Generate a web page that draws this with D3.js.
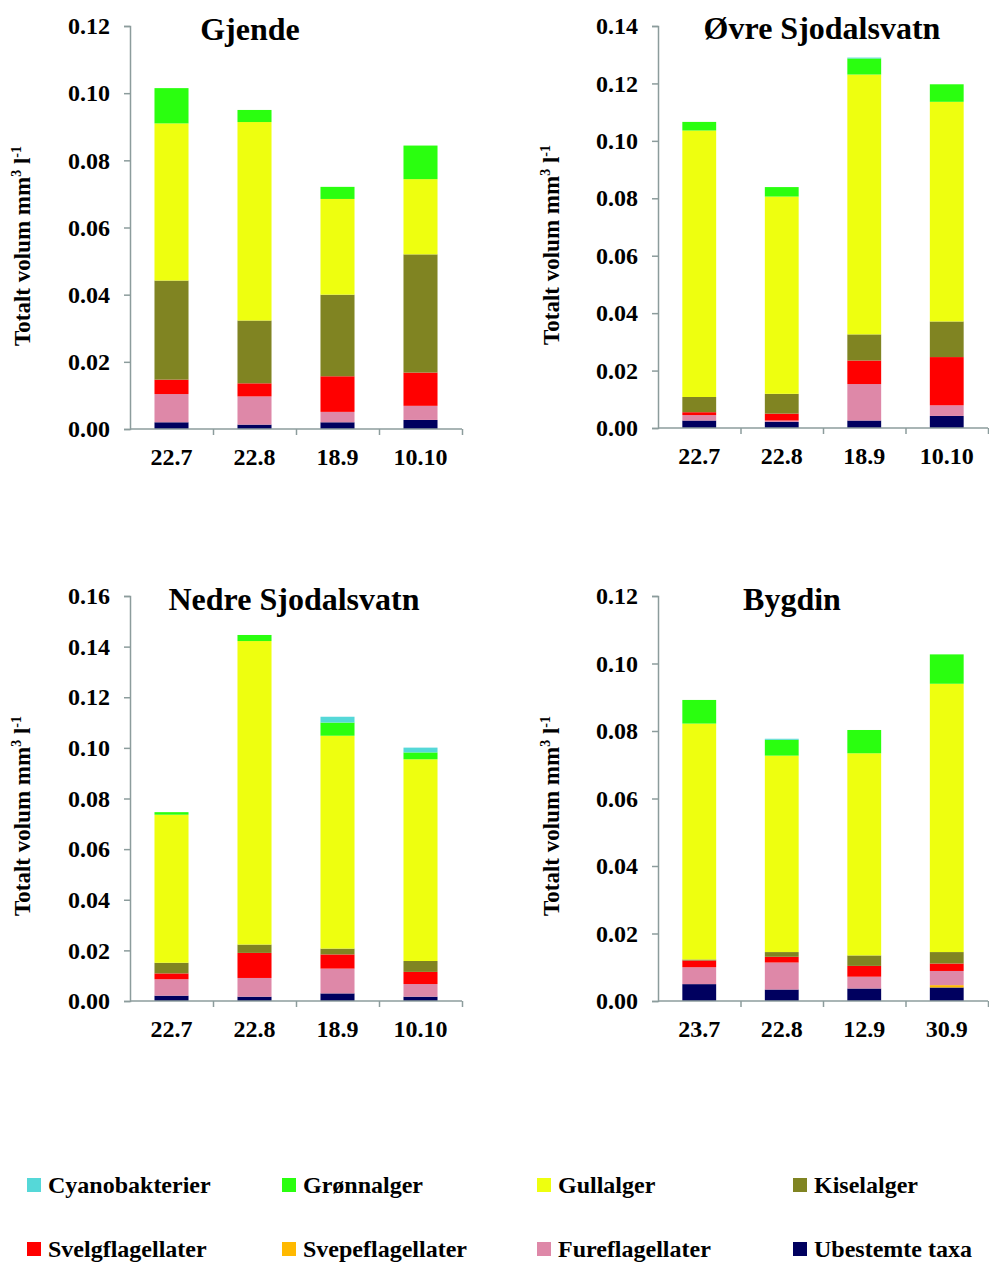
<!DOCTYPE html>
<html>
<head>
<meta charset="utf-8">
<script src="https://cdn.jsdelivr.net/npm/d3@7"></script>
<style>
  html, body { margin: 0; padding: 0; background: #fff; }
  svg { display: block; }
  svg text { font-family: "Liberation Serif", Tinos, "Times New Roman", Times, "DejaVu Serif", serif !important; font-weight: bold; fill: #000; }
</style>
</head>
<body>
<svg id="chart" width="989" height="1264"></svg>
<script>
// Species, stacked from bottom to top
const species = ["Ubestemte taxa", "Svepeflagellater", "Fureflagellater", "Svelgflagellater", "Kiselalger", "Gullalger", "Grønnalger", "Cyanobakterier"];
const speciesColors = ["#00005f", "#ffb900", "#de88a8", "#ff0000", "#808422", "#eeff0f", "#2aff0f", "#55d8d8"];

// Legend order (row by row)
const legendOrder = ["Cyanobakterier", "Grønnalger", "Gullalger", "Kiselalger", "Svelgflagellater", "Svepeflagellater", "Fureflagellater", "Ubestemte taxa"];

// Lake names
const lakes = ["Gjende", "Øvre Sjodalsvatn", "Nedre Sjodalsvatn", "Bygdin"];

// Sampling dates per lake
const gjendeDates = ["22.7", "22.8", "18.9", "10.10"];
const ovreDates = ["22.7", "22.8", "18.9", "10.10"];
const nedreDates = ["22.7", "22.8", "18.9", "10.10"];
const bygdinDates = ["23.7", "22.8", "12.9", "30.9"];

// Values (mm3 l-1); rows follow `species`, columns follow the dates
const gjendeValues = [
  [0.0020, 0.0013, 0.0020, 0.0027],
  [0.0000, 0.0000, 0.0000, 0.0000],
  [0.0084, 0.0084, 0.0031, 0.0042],
  [0.0043, 0.0039, 0.0106, 0.0099],
  [0.0295, 0.0187, 0.0243, 0.0352],
  [0.0468, 0.0591, 0.0285, 0.0224],
  [0.0105, 0.0036, 0.0036, 0.0100],
  [0.0000, 0.0000, 0.0000, 0.0000]
];
const ovreValues = [
  [0.0026, 0.0021, 0.0026, 0.0042],
  [0.0000, 0.0000, 0.0000, 0.0000],
  [0.0019, 0.0005, 0.0127, 0.0037],
  [0.0010, 0.0024, 0.0082, 0.0168],
  [0.0053, 0.0069, 0.0091, 0.0124],
  [0.0928, 0.0687, 0.0905, 0.0765],
  [0.0030, 0.0033, 0.0056, 0.0061],
  [0.0000, 0.0000, 0.0003, 0.0000]
];
const nedreValues = [
  [0.0021, 0.0017, 0.0030, 0.0017],
  [0.0000, 0.0000, 0.0000, 0.0000],
  [0.0065, 0.0074, 0.0098, 0.0050],
  [0.0023, 0.0099, 0.0056, 0.0048],
  [0.0042, 0.0033, 0.0023, 0.0043],
  [0.0585, 0.1199, 0.0841, 0.0797],
  [0.0010, 0.0024, 0.0052, 0.0027],
  [0.0000, 0.0000, 0.0023, 0.0019]
];
const bygdinValues = [
  [0.0050, 0.0034, 0.0037, 0.0040],
  [0.0000, 0.0000, 0.0000, 0.0007],
  [0.0050, 0.0080, 0.0035, 0.0042],
  [0.0020, 0.0017, 0.0032, 0.0022],
  [0.0003, 0.0014, 0.0031, 0.0034],
  [0.0699, 0.0582, 0.0599, 0.0795],
  [0.0070, 0.0047, 0.0069, 0.0087],
  [0.0000, 0.0003, 0.0000, 0.0000]
];

// Y-axis maxima and tick step
const yMaxima = [0.12, 0.14, 0.16, 0.12];
const yTickStep = 0.02;

// ---------- layout ----------
const panelLayout = [
  { left: 130, right: 462, top: 26,  bottom: 429,  titleX: 250, titleY: 40,  yTitleX: 22,  yTitleY: 246 },
  { left: 658, right: 988, top: 26,  bottom: 428,  titleX: 822, titleY: 39,  yTitleX: 551, yTitleY: 245 },
  { left: 130, right: 462, top: 596, bottom: 1001, titleX: 294, titleY: 610, yTitleX: 22,  yTitleY: 816 },
  { left: 658, right: 988, top: 596, bottom: 1001, titleX: 792, titleY: 610, yTitleX: 551, yTitleY: 816 }
];
const datesList = [gjendeDates, ovreDates, nedreDates, bygdinDates];
const valuesList = [gjendeValues, ovreValues, nedreValues, bygdinValues];

const axisColor = "#8c9c9c";
const svg = d3.select("#chart");
const color = d3.scaleOrdinal().domain(species).range(speciesColors);

lakes.forEach((lake, p) => {
  const L = panelLayout[p];
  const dates = datesList[p];
  const vals = valuesList[p];
  const rows = dates.map((d, j) => {
    const r = { date: d };
    species.forEach((s, i) => { r[s] = vals[i][j]; });
    return r;
  });
  const stacked = d3.stack().keys(species)(rows);

  const x = d3.scaleBand().domain(dates).range([L.left, L.right]).padding(0);
  const y = d3.scaleLinear().domain([0, yMaxima[p]]).range([L.bottom, L.top]);
  const barFrac = 0.41;
  const bw = x.bandwidth() * barFrac;

  const g = svg.append("g");

  // bars
  g.selectAll("g.layer").data(stacked).join("g")
    .attr("class", "layer")
    .attr("fill", d => color(d.key))
    .selectAll("rect").data(d => d.filter(v => v[1] - v[0] > 0)).join("rect")
    .attr("x", d => x(d.data.date) + (x.bandwidth() - bw) / 2)
    .attr("width", bw)
    .attr("y", d => y(d[1]))
    .attr("height", d => y(d[0]) - y(d[1]));

  // y axis
  const ticks = d3.range(0, yMaxima[p] + 1e-9, yTickStep);
  const yAxis = d3.axisLeft(y).tickValues(ticks).tickFormat(d3.format(".2f")).tickSize(6).tickPadding(14);
  const ya = g.append("g").attr("transform", `translate(${L.left},0)`).call(yAxis);
  ya.attr("font-family", null);
  ya.select(".domain").attr("stroke", axisColor).attr("stroke-width", 1.5);
  ya.selectAll(".tick line").attr("stroke", axisColor).attr("stroke-width", 1.5);
  ya.selectAll(".tick text").attr("font-size", 24).attr("fill", "#000");

  // x axis line with boundary ticks
  const bounds = d3.range(dates.length + 1).map(i => L.left + i * x.step());
  const xBound = d3.scaleLinear().domain([L.left, L.right]).range([L.left, L.right]);
  const xTickAxis = d3.axisBottom(xBound).tickValues(bounds.slice(1)).tickSize(6).tickFormat("");
  const xa = g.append("g").attr("transform", `translate(0,${L.bottom})`).call(xTickAxis);
  xa.select(".domain").attr("stroke", axisColor).attr("stroke-width", 1.5).attr("d", `M${L.left},0H${L.right}`);
  xa.selectAll(".tick line").attr("stroke", axisColor).attr("stroke-width", 1.5);

  const xLabAxis = d3.axisBottom(x).tickSize(0).tickPadding(19);
  const xl = g.append("g").attr("transform", `translate(0,${L.bottom})`).call(xLabAxis);
  xl.attr("font-family", null);
  xl.select(".domain").remove();
  xl.selectAll(".tick text").attr("font-size", 24).attr("fill", "#000");

  // title
  g.append("text").attr("x", L.titleX).attr("y", L.titleY).attr("text-anchor", "middle")
    .attr("font-size", 32).text(lake);

  // y title
  const yt = g.append("text")
    .attr("transform", `translate(${L.yTitleX + 8},${L.yTitleY}) rotate(-90)`)
    .attr("text-anchor", "middle").attr("font-size", 23);
  yt.append("tspan").text("Totalt volum mm");
  yt.append("tspan").attr("font-size", 14).attr("dy", -9).text("3");
  yt.append("tspan").attr("dy", 9).text(" l");
  yt.append("tspan").attr("font-size", 14).attr("dy", -9).text("-1");
});

// legend
const legendCols = [27, 282, 537, 793];
const legendRows = [1178, 1242];
const lg = svg.append("g");
legendOrder.forEach((name, k) => {
  const cx = legendCols[k % 4];
  const cy = legendRows[Math.floor(k / 4)];
  lg.append("rect").attr("x", cx).attr("y", cy).attr("width", 14).attr("height", 14).attr("fill", color(name));
  lg.append("text").attr("x", cx + 21).attr("y", cy + 15).attr("font-size", 24).text(name);
});
</script>
</body>
</html>
